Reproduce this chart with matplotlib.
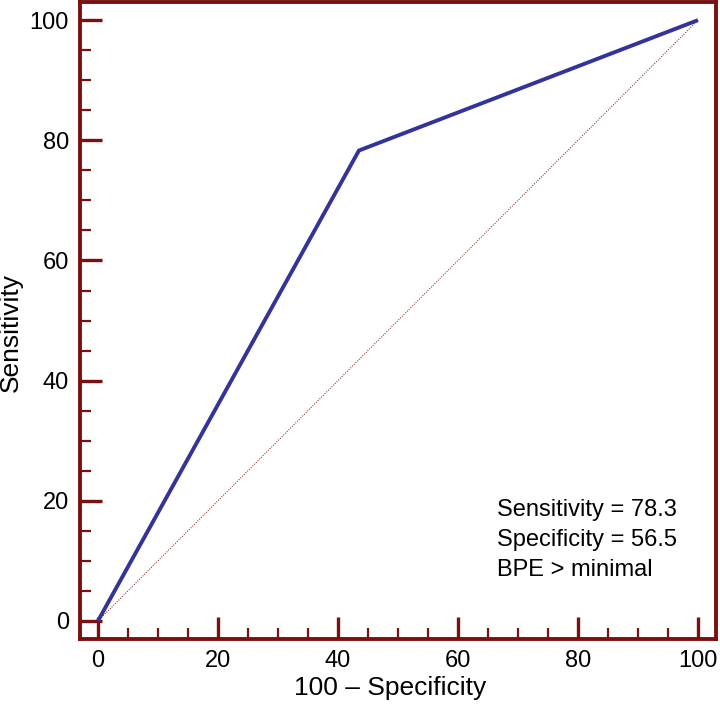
import matplotlib
matplotlib.use("Agg")
import matplotlib.pyplot as plt
from matplotlib.ticker import MultipleLocator

plt.rcParams['font.family'] = ['Liberation Sans', 'DejaVu Sans']

fpr = [0, 43.5, 100]
tpr = [0, 78.3, 100]
diag_x = [0, 100]
diag_y = [0, 100]
annot = ["Sensitivity = 78.3", "Specificity = 56.5", "BPE > minimal"]
ticks = [0, 20, 40, 60, 80, 100]

maroon = '#7a1010'
fig = plt.figure(figsize=(7.2, 7.08), dpi=100)
ax = fig.add_axes([0.111, 0.0975, 0.8834, 0.8995])
ax.plot(diag_x, diag_y, color=maroon, lw=0.7, ls=(0, (1, 1.5)))
ax.plot(fpr, tpr, color='#333399', lw=2.8, solid_capstyle='butt', solid_joinstyle='miter')
ax.set_xlim(-3, 103)
ax.set_ylim(-3, 103)
ax.set_xticks(ticks)
ax.set_yticks(ticks)
ax.xaxis.set_minor_locator(MultipleLocator(5))
ax.yaxis.set_minor_locator(MultipleLocator(5))
for s in ax.spines.values():
    s.set_color(maroon)
    s.set_linewidth(2.8)
ax.tick_params(which='major', direction='in', length=16, width=2.4, color=maroon,
               labelsize=17, pad=8, top=False, right=False)
ax.tick_params(which='minor', direction='in', length=8, width=1.6, color=maroon,
               top=False, right=False)
ax.set_xlabel('100 \u2013 Specificity', fontsize=19, labelpad=3)
ax.set_ylabel('Sensitivity', fontsize=19, labelpad=5)
ax.xaxis.label.set_x(0.487)
ax.yaxis.label.set_y(0.482)
for i, t in enumerate(annot):
    ax.text(66.5, 18.5 - i * 5.05, t, fontsize=17, va='center', ha='left')
fig.savefig('out.png', dpi=100)
